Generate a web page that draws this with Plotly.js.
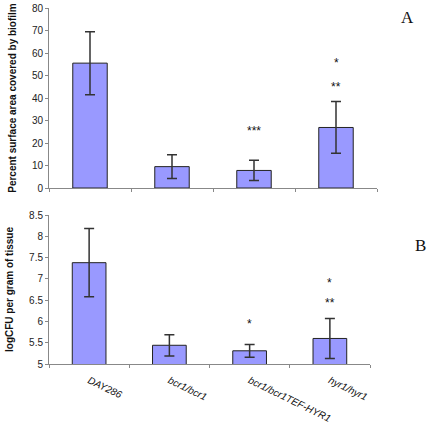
<!DOCTYPE html>
<html><head><meta charset="utf-8">
<script src="https://cdn.plot.ly/plotly-3.0.1.min.js"></script>
<style>html,body{margin:0;padding:0;background:#fff}#c{width:431px;height:423px}</style>
</head><body><div id="c"></div>
<script>
const categories = ["DAY286", "bcr1/bcr1", "bcr1/bcr1TEF-HYR1", "hyr1/hyr1"];
const biofilmPct = [55.5, 9.5, 7.8, 26.9];
const biofilmErr = [14.0, 5.3, 4.5, 11.5];
const logCFU = [7.38, 5.44, 5.31, 5.60];
const logCFUErr = [0.80, 0.25, 0.15, 0.47];
// significance markers: [category, y, text]
const starsA = [["bcr1/bcr1TEF-HYR1", 26.8, "***"], ["hyr1/hyr1", 46.2, "**"], ["hyr1/hyr1", 56.9, "*"]];
const starsB = [["bcr1/bcr1TEF-HYR1", 6.01, "*"], ["hyr1/hyr1", 6.51, "**"], ["hyr1/hyr1", 6.97, "*"]];

const barStyle = {color: "#9999ff", line: {color: "#222", width: 1}};
const errStyle = {color: "#333", thickness: 1.5, width: 5};

const traces = [
  {type: "bar", x: categories, y: biofilmPct, xaxis: "x", yaxis: "y",
   marker: barStyle, error_y: Object.assign({type: "data", array: biofilmErr, visible: true}, errStyle)},
  {type: "bar", x: categories, y: logCFU, xaxis: "x2", yaxis: "y2",
   marker: barStyle, error_y: Object.assign({type: "data", array: logCFUErr, visible: true}, errStyle)}
];

const tickFont = {family: "Liberation Sans, Arial", size: 10, color: "#222"};
const titleFont = {family: "Liberation Sans, Arial", size: 10, color: "#111", weight: "bold"};
const axisCommon = {showgrid: false, zeroline: false, showline: true, linecolor: "#888", linewidth: 1,
  ticks: "outside", ticklen: 3, tickcolor: "#888", tickfont: tickFont};

const starFont = {family: "Liberation Sans, Arial", size: 12, color: "#111"};
const annotations = [];
starsA.forEach(s => annotations.push({xref: "x", yref: "y", x: s[0], y: s[1], text: s[2], showarrow: false,
  font: starFont, yshift: -3}));
starsB.forEach(s => annotations.push({xref: "x2", yref: "y2", x: s[0], y: s[1], text: s[2], showarrow: false,
  font: starFont, yshift: -3}));

const L = 49, R = 54, T = 8, B = 59, W = 431, H = 423;
const pw = W - L - R, ph = H - T - B;
const letterFont = {family: "Liberation Serif, Times New Roman", size: 17, color: "#111"};
annotations.push({xref: "paper", yref: "paper", x: (407 - L) / pw, y: (H - B - 17) / ph, xanchor: "center", yanchor: "middle",
  text: "A", showarrow: false, font: letterFont});
annotations.push({xref: "paper", yref: "paper", x: (421 - L) / pw, y: (H - B - 245) / ph, xanchor: "center", yanchor: "middle",
  text: "B", showarrow: false, font: letterFont});

const layout = {
  width: W, height: H, margin: {l: L, r: R, t: T, b: B},
  paper_bgcolor: "#fff", plot_bgcolor: "#fff", showlegend: false,
  bargap: 0.58,
  xaxis: Object.assign({}, axisCommon, {domain: [0, 1], anchor: "y", showticklabels: false, tickson: "boundaries"}),
  yaxis: Object.assign({}, axisCommon, {domain: [(H - B - 188) / ph, 1], anchor: "x", range: [0, 80], dtick: 10,
    title: {text: "Percent surface area covered by biofilm", font: titleFont, standoff: 13}}),
  xaxis2: Object.assign({}, axisCommon, {domain: [0, (370 - L) / pw], anchor: "y2", tickson: "boundaries",
    tickmode: "array", tickvals: categories, ticktext: categories.map(c => "<i>" + c + "</i>"),
    tickangle: 26, ticklabelstandoff: 6,
    tickfont: {family: "Liberation Sans, Arial", size: 10, color: "#111"}}),
  yaxis2: Object.assign({}, axisCommon, {domain: [0, (H - B - 215) / ph], anchor: "x2", range: [5, 8.5], dtick: 0.5,
    title: {text: "logCFU per gram of tissue", font: titleFont, standoff: 13}}),
  annotations: annotations
};

Plotly.newPlot("c", traces, layout, {displayModeBar: false, staticPlot: true});
</script></body></html>
